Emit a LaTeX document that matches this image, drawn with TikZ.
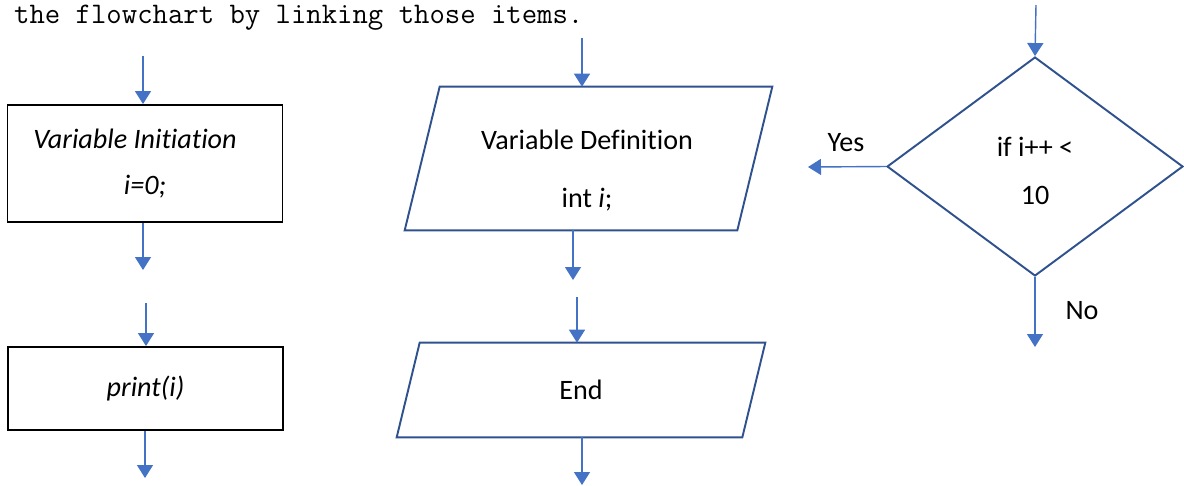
\documentclass[tikz,border=0pt]{standalone}
\usepackage{fontspec}
\setmainfont{Carlito}[Ligatures=NoCommon]
\usetikzlibrary{positioning,shapes.geometric,arrows.meta}
\definecolor{arrowblue}{HTML}{4472C4}
\definecolor{shapeblue}{HTML}{2F528F}

\begin{document}
\begin{tikzpicture}[
    x=0.02cm, y=-0.02cm,
    font=\fontsize{16}{19}\selectfont,
    flow/.style={-{Triangle[length=0.26cm,width=0.32cm]}, draw=arrowblue, fill=arrowblue, line width=0.8pt},
    procbox/.style={draw=black, line width=1.1pt, rectangle, align=center, inner sep=0pt, minimum width=5.5cm},
    iobox/.style={rectangle, inner sep=0pt},
    ioline/.style={draw=shapeblue, line width=1.1pt, line join=miter},
    decbox/.style={draw=shapeblue, line width=1.1pt, diamond, align=center, inner sep=0pt}
]
    \useasboundingbox (0,0) rectangle (1184,485);

    \node[anchor=base west, font=\ttfamily\fontsize{17}{20}\selectfont] (intro) at (8,23)
        {the flowchart by linking those items.};

    % left column
    \node[procbox, minimum height=2.34cm, font=\fontsize{16}{19}\selectfont\itshape] (init) at (145,163.5)
        {Variable Initiation\hspace*{0.4cm}\\[7.5pt]i=0;};
    \node[procbox, minimum height=1.66cm, font=\fontsize{16}{19}\selectfont\itshape] (print) at (145.5,388.5)
        {print(i)};

    % middle column
    \node[iobox, minimum width=6.64cm, minimum height=2.86cm] (vardef) at (588.5,158.5) {};
    \draw[ioline] ([xshift=-0.35cm]vardef.south west) -- ([xshift=0.35cm]vardef.north west)
        -- ([xshift=0.35cm]vardef.north east) -- ([xshift=-0.35cm]vardef.south east) -- cycle;
    \node[align=center] (vardeftext) at (587,171) {Variable Definition\\[14pt]int \textit{i};};

    \node[iobox, minimum width=6.9cm, minimum height=1.88cm] (theend) at (581,390) {End};
    \draw[ioline] ([xshift=-0.23cm]theend.south west) -- ([xshift=0.23cm]theend.north west)
        -- ([xshift=0.23cm]theend.north east) -- ([xshift=-0.23cm]theend.south east) -- cycle;

    % decision
    \node[decbox, minimum width=5.92cm, minimum height=4.38cm] (cond) at (1035,166.5) {};
    \node[align=center] (condtext) at (1035,171) {if i++ <\\[8pt]10};
    \node (yes) at ([xshift=-0.8cm,yshift=0.48cm]cond.west) {Yes};
    \node (no) at ([xshift=0.94cm,yshift=-0.68cm]cond.south) {No};

    % free ends of the arrows
    \coordinate (initin) at (143,56);
    \coordinate (initout) at (143,270);
    \coordinate (printin) at (146,303);
    \coordinate (printout) at (145,478);
    \coordinate (defin) at (582,38);
    \coordinate (defout) at (573,280);
    \coordinate (endin) at (577,297);
    \coordinate (endout) at (582,485);
    \coordinate (condin) at (1036,5);
    \coordinate (yesout) at (808,167);
    \coordinate (noout) at (1035,347);

    \draw[flow] (initin) -- (initin |- init.north);
    \draw[flow] (init.south -| initout) -- (initout);
    \draw[flow] (printin) -- (printin |- print.north);
    \draw[flow] (print.south -| printout) -- (printout);
    \draw[flow] (defin) -- (defin |- vardef.north);
    \draw[flow] (vardef.south -| defout) -- (defout);
    \draw[flow] (endin) -- (endin |- theend.north);
    \draw[flow] (theend.south -| endout) -- (endout);
    \draw[flow] (condin) -- (cond.north);
    \draw[flow] (cond.west) -- (yesout);
    \draw[flow] (cond.south) -- (noout);
\end{tikzpicture}
\end{document}
